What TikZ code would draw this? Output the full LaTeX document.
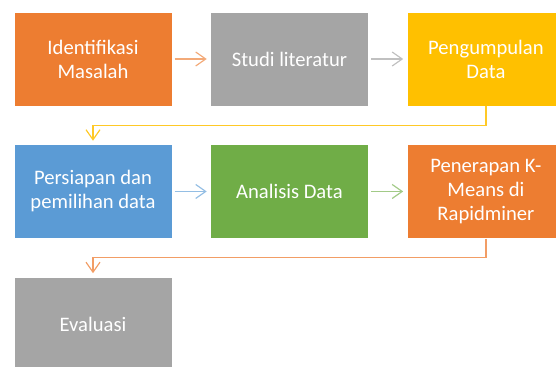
\documentclass[tikz,border=0pt]{standalone}
\usepackage{fontspec}
\setmainfont{Carlito}
\usetikzlibrary{arrows.meta,positioning}

\definecolor{msorange}{HTML}{ED7D31}
\definecolor{msgray}{HTML}{A5A5A5}
\definecolor{msgold}{HTML}{FFC000}
\definecolor{msblue}{HTML}{5B9BD5}
\definecolor{msgreen}{HTML}{70AD47}

\begin{document}
\begin{tikzpicture}[
  box/.style={draw=white, line width=0.4pt, align=center, text=white, minimum width=4.74cm, minimum height=2.82cm, inner sep=2pt, font=\fontsize{17.6}{20.5}\selectfont},
  arr/.style={-{Straight Barb[length=3mm, width=4.2mm]}, line width=1pt, shorten >=3pt, shorten <=2pt}
]
\clip (0,0) rectangle (16.68,-11.01);

\node[box, fill=msorange] (ident) at (2.79,-1.77) {Identifikasi\\Masalah};
\node[box, fill=msgray, right=1.14cm of ident] (studi) {Studi literatur};
\node[box, fill=msgold, right=1.14cm of studi] (kumpul) {Pengumpulan\\Data};

\node[box, fill=msblue, below=1.14cm of ident] (siap) {Persiapan dan\\pemilihan data};
\node[box, fill=msgreen, right=1.14cm of siap] (analisis) {Analisis Data};
\node[box, fill=msorange, right=1.14cm of analisis] (kmeans) {Penerapan K-\\Means di\\Rapidminer};

\node[box, fill=msgray, below=1.14cm of siap] (eval) {Evaluasi};

\draw[arr, draw=msorange!65] (ident) -- (studi);
\draw[arr, draw=msgray!70] (studi) -- (kumpul);
\draw[arr, draw=msgold!85, shorten <=0pt] (kumpul.south) -- ++(0,-0.57) -| (siap.north);
\draw[arr, draw=msblue!65] (siap) -- (analisis);
\draw[arr, draw=msgreen!65] (analisis) -- (kmeans);
\draw[arr, draw=msorange!75, shorten <=0pt] (kmeans.south) -- ++(0,-0.57) -| (eval.north);

\end{tikzpicture}
\end{document}
